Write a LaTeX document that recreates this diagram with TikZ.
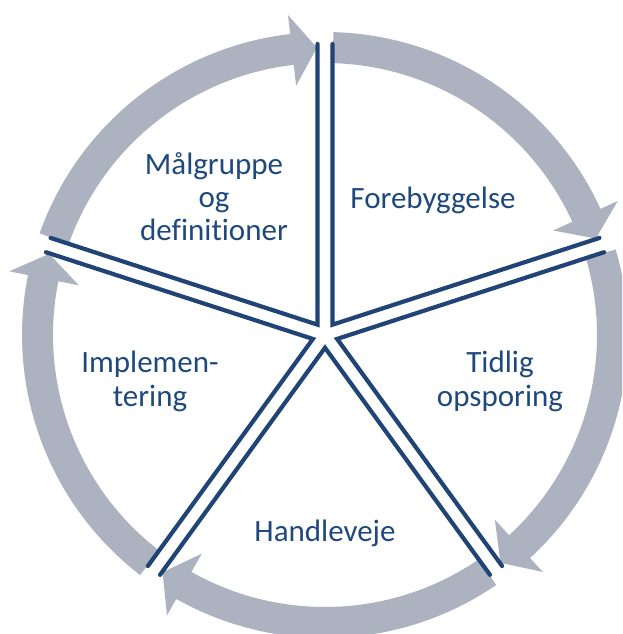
\documentclass[tikz,border=0pt]{standalone}
\usepackage{fontspec}
\setmainfont{Carlito}[Ligatures={NoCommon,NoRare,NoDiscretionary}]
\usetikzlibrary{calc}
\definecolor{bandgray}{RGB}{173,178,193}
\definecolor{spokeblue}{RGB}{31,68,117}
\definecolor{textblue}{RGB}{31,73,125}
\tikzset{
  band/.style={fill=bandgray, draw=none},
  spokeline/.style={draw=spokeblue, line width=4.2pt, line cap=round, line join=miter},
  lbl/.style={text=textblue, font=\fontsize{31}{34}\selectfont, anchor=base, inner sep=0pt}
}
\begin{document}
\begin{tikzpicture}[x=1pt,y=1pt]
\useasboundingbox (0,0) rectangle (622,634);
\clip (0,0) rectangle (622,634);
\begin{scope}[shift={(325,299)}]
  \coordinate (c) at (0,0);
  % curved arrows (clockwise), from spoke a to spoke a-72
  \foreach \a [count=\i] in {162,90,18,-54,-126}{
    \pgfmathsetmacro{\s}{\a-1.6}
    \pgfmathsetmacro{\b}{\a-72+6.6}
    \pgfmathsetmacro{\t}{\a-72+1.6}
    \path[band] (\s:303pt) arc[start angle=\s, end angle=\b, radius=303pt]
      -- (\b:322pt) -- (\t:287.5pt) -- (\b:251pt) -- (\b:272pt)
      arc[start angle=\b, end angle=\s, radius=272pt] -- cycle;
  }
  % spokes: double lines meeting in a star
  \foreach \a in {90,18,-54,-126,162}{
    \pgfmathsetmacro{\n}{\a-72}
    \pgfmathsetmacro{\m}{\a-36}
    \draw[spokeline] ($(\a:291pt)+(\a-90:7.5pt)$) -- (\m:12.76pt) -- ($(\n:291pt)+(\n+90:7.5pt)$);
  }
\end{scope}
\node[lbl] (t1a) at (214,459) {Målgruppe};
\node[lbl] (t1b) at (214,426) {og};
\node[lbl] (t1c) at (214,393) {definitioner};
\node[lbl] (t2) at (433,425) {Forebyggelse};
\node[lbl] (t3a) at (500,261) {Tidlig};
\node[lbl] (t3b) at (500,227) {opsporing};
\node[lbl] (t4) at (325,92) {Handleveje};
\node[lbl] (t5a) at (150,261) {Implemen-};
\node[lbl] (t5b) at (150,227) {tering};
\end{tikzpicture}
\end{document}
